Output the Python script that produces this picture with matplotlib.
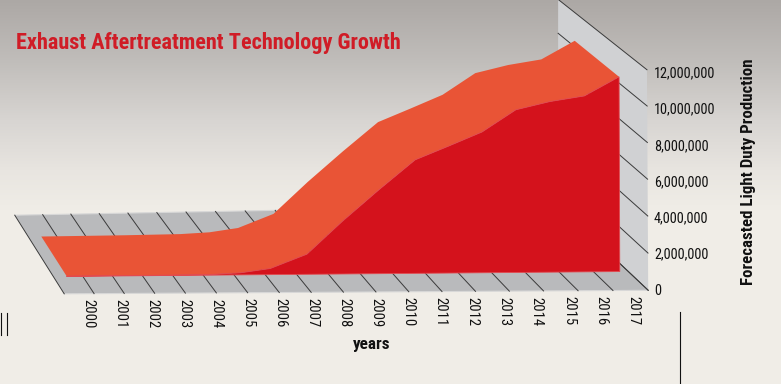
import numpy as np
import matplotlib
matplotlib.use("Agg")
import matplotlib.pyplot as plt
from matplotlib import font_manager as fm

years = list(range(2000, 2018))
production_m = [0.02, 0.02, 0.02, 0.02, 0.03, 0.04, 0.12, 0.35, 1.15, 3.0, 4.75,
                6.42, 7.15, 7.9, 9.1, 9.5, 9.75, 10.75]
y_ticks_m = [0, 2, 4, 6, 8, 10, 12]
y_tick_labels = ["0", "2,000,000", "4,000,000", "6,000,000", "8,000,000", "10,000,000", "12,000,000"]
title = "Exhaust Aftertreatment Technology Growth"
x_title = "years"
y_title = "Forecasted Light Duty Production"

# camera calibration: (cell, depth, millions) -> image pixel
calib = [((0, 0, 0), (64, 294)), ((18, 0, 0), (648, 290)), ((18, 1, 0), (558, 206)),
         ((0, 1, 0), (15, 215)), ((18, 0, 12), (647, 71)), ((18, 1, 12), (558, -1)),
         ((18, 1, 10), (558, 33)), ((18, 0, 6), (648, 178))]
A = []
for (u, v, w), (x, y) in calib:
    X = [u, v, w, 1]
    A.append(X + [0, 0, 0, 0] + [-x * c for c in X])
    A.append([0, 0, 0, 0] + X + [-y * c for c in X])
P = np.linalg.svd(np.array(A, float))[2][-1].reshape(3, 4)


def proj(u, v, w=0):
    h = P @ np.array([u, v, w, 1.0])
    return h[0] / h[2], h[1] / h[2]


FAM = "DejaVu Sans"
for fam in ["Liberation Sans Narrow", "Roboto Condensed", "Liberation Sans"]:
    try:
        fm.findfont(fm.FontProperties(family=fam), fallback_to_default=False)
        FAM = fam
        break
    except Exception:
        continue

fig = plt.figure(figsize=(7.81, 3.84), dpi=100)
ax = fig.add_axes([0, 0, 1, 1])
ax.axis("off")

# background gradient
stops_y = [0, 60, 120, 170, 210, 384]
stops_c = np.array([[172, 168, 165], [192, 189, 186], [216, 213, 210], [232, 229, 224], [240, 237, 231], [240, 237, 231]]) / 255
yy = np.arange(384)
grad = np.stack([np.interp(yy, stops_y, stops_c[:, i]) for i in range(3)], axis=1)[:, None, :]
ax.imshow(grad, extent=[0, 781, 384, 0], aspect="auto", zorder=0)

# floor + side wall
ax.fill(*zip(*[proj(0, 0), proj(18, 0), proj(18, 1), proj(0, 1)]), color="#b9babc", ec="#d8d8d8", lw=0.8, zorder=1)
ax.fill(*zip(*[proj(18, 0), proj(18, 1), proj(18, 1, 12), proj(18, 0, 12)]), color="#d0d1d3", ec="none", zorder=1)
for i in range(19):
    ax.plot(*zip(proj(i, 0), proj(i, 1)), color="#3a3a3a", lw=0.7, zorder=2)
for t in y_ticks_m:
    ax.plot(*zip(proj(18, 0, t), proj(18, 1, t)), color="#3a3a3a", lw=0.7, zorder=2)

# surface: category positions along the perspective floor
VF, VB = 0.21, 0.71
shift = np.array([0, -.05, -.1, -.15, -.2, -.3, -.35, -.42, -.28, -.2, -.1, 0, 0, 0, 0, 0, 0, 0])
us = 0.45 + 1.018 * np.arange(len(years)) + shift
front = [proj(u, VF, w) for u, w in zip(us, production_m)]
back = [proj(u, VB, w) for u, w in zip(us, production_m)]
base = [proj(us[-1], VF), proj(us[0], VF)]
ax.fill(*zip(*(front + back[::-1])), color="#e95436", ec="none", zorder=3)
ax.fill(*zip(*(front + base)), color="#d4121c", ec="#e24a50", lw=0.6, zorder=4)

# text
ax.text(16, 43, title, color="#d01c26", family=FAM, fontweight="bold", fontsize=16, va="center", ha="left")
for i, yr in enumerate(years):
    ax.text(88 + 32.06 * i, 314 - 0.2 * i, str(yr), rotation=-90, family=FAM, fontsize=10.5, color="#111",
            ha="center", va="center")
for t, lab, y in zip(y_ticks_m, y_tick_labels, [291, 254, 218, 182, 146, 109, 73]):
    ax.text(654, y, lab, family=FAM, fontsize=10.3, color="#111", ha="left", va="center")
ax.text(372, 345, x_title, family=FAM, fontweight="bold", fontsize=12.3, ha="center", va="center", color="#111")
ax.text(748, 171.5, y_title, rotation=90, family=FAM, fontweight="bold", fontsize=12.2, ha="center", va="center", color="#111")

# stray rule fragments
for x, y0, y1 in [(0.5, 313, 335), (7, 313, 335), (680, 312, 384)]:
    ax.plot([x, x], [y0, y1], color="#111", lw=0.8, zorder=5)
ax.set_xlim(0, 781)
ax.set_ylim(384, 0)
fig.savefig("out.png", dpi=100)
